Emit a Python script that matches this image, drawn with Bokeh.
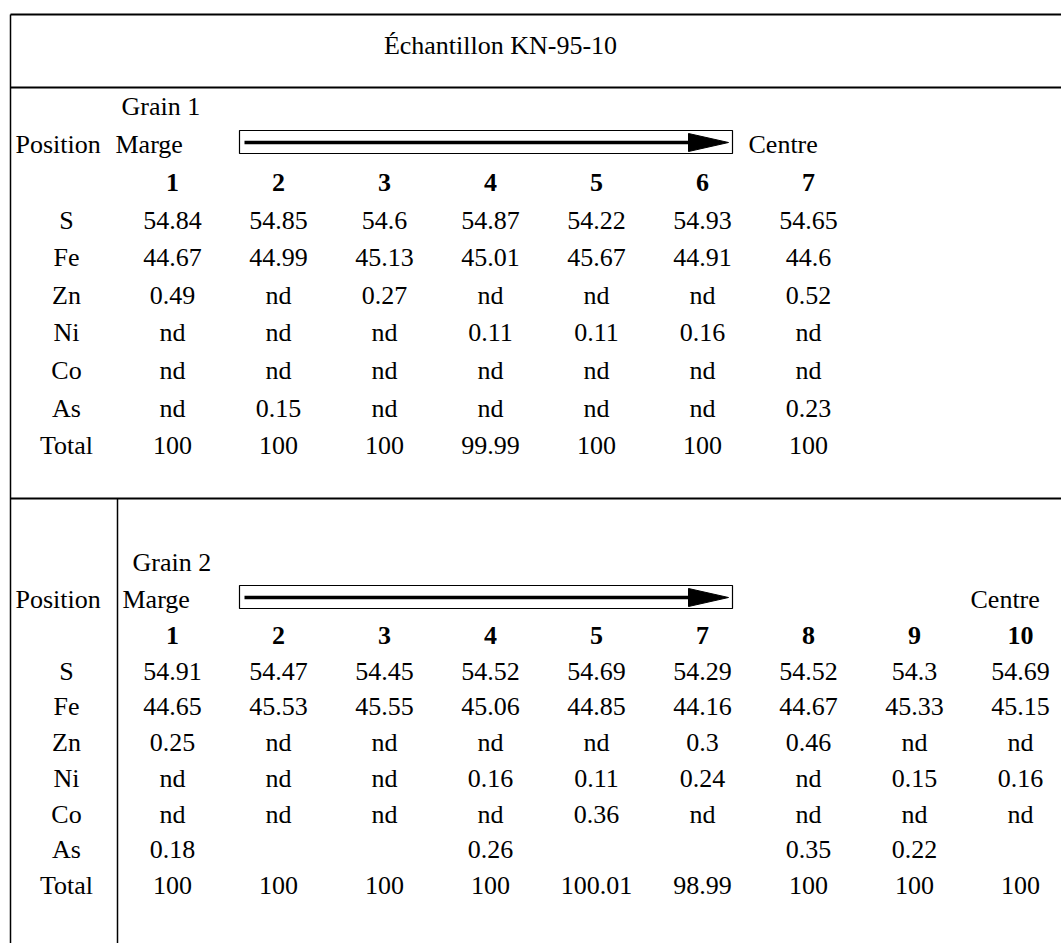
from bokeh.plotting import figure
from bokeh.models import Range1d
from bokeh.core.properties import value
from bokeh.embed import file_html
from bokeh.resources import INLINE

# ---------------- data ----------------
title_text = "Échantillon KN-95-10"
elements = ["S", "Fe", "Zn", "Ni", "Co", "As", "Total"]

g1_label = "Grain 1"
g1_positions = ["1", "2", "3", "4", "5", "6", "7"]
g1_S = ["54.84", "54.85", "54.6", "54.87", "54.22", "54.93", "54.65"]
g1_Fe = ["44.67", "44.99", "45.13", "45.01", "45.67", "44.91", "44.6"]
g1_Zn = ["0.49", "nd", "0.27", "nd", "nd", "nd", "0.52"]
g1_Ni = ["nd", "nd", "nd", "0.11", "0.11", "0.16", "nd"]
g1_Co = ["nd", "nd", "nd", "nd", "nd", "nd", "nd"]
g1_As = ["nd", "0.15", "nd", "nd", "nd", "nd", "0.23"]
g1_Total = ["100", "100", "100", "99.99", "100", "100", "100"]

g2_label = "Grain 2"
g2_positions = ["1", "2", "3", "4", "5", "7", "8", "9", "10"]
g2_S = ["54.91", "54.47", "54.45", "54.52", "54.69", "54.29", "54.52", "54.3", "54.69"]
g2_Fe = ["44.65", "45.53", "45.55", "45.06", "44.85", "44.16", "44.67", "45.33", "45.15"]
g2_Zn = ["0.25", "nd", "nd", "nd", "nd", "0.3", "0.46", "nd", "nd"]
g2_Ni = ["nd", "nd", "nd", "0.16", "0.11", "0.24", "nd", "0.15", "0.16"]
g2_Co = ["nd", "nd", "nd", "nd", "0.36", "nd", "nd", "nd", "nd"]
g2_As = ["0.18", "", "", "0.26", "", "", "0.35", "0.22", ""]
g2_Total = ["100", "100", "100", "100", "100.01", "98.99", "100", "100", "100"]

# ---------------- layout ----------------
FONT = value("Liberation Serif")
FS = "26px"
W, H = 1061, 943

p = figure(width=W, height=H, x_range=Range1d(0, W), y_range=Range1d(H, 0),
           output_backend="svg", toolbar_location=None, min_border=0)
p.xaxis.visible = False
p.yaxis.visible = False
p.grid.visible = False
p.outline_line_color = None
p.background_fill_color = "white"

LEFT = 10
COL0, DCOL = 172, 106.0
LABEL_X = 66


def txt(x, y, t, align="center", bold=False, size=FS):
    p.text(x=x, y=y, text=t, text_align=align, text_baseline="middle",
           text_font=FONT, text_font_size=size, text_color="black",
           text_font_style="bold" if bold else "normal")


# frame lines
TOP, LINE2, LINE3 = 14, 87, 498
p.segment(x0=[LEFT, LEFT, LEFT], y0=[TOP, LINE2, LINE3], x1=[W, W, W], y1=[TOP, LINE2, LINE3],
          line_color="black", line_width=2)
p.segment(x0=[LEFT], y0=[TOP], x1=[LEFT], y1=[H], line_color="black", line_width=1.5)
p.segment(x0=[117], y0=[LINE3], x1=[117], y1=[H], line_color="black", line_width=1.5)

txt([500], [45], [title_text])


def section(grain_label, positions, rows, y_grain, y_pos, y_num, d, grain_x, marge_x, centre_x):
    txt([grain_x], [y_grain], [grain_label], align="left")
    txt([15], [y_pos], ["Position"], align="left")
    txt([marge_x], [y_pos], ["Marge"], align="left")
    txt([centre_x], [y_pos], ["Centre"], align="left")
    # arrow box
    bx0, bx1 = 239, 732
    yc = y_pos - 2
    p.quad(left=[bx0], right=[bx1], top=[yc - 12], bottom=[yc + 11],
           fill_color=None, line_color="black", line_width=1.2)
    p.segment(x0=[bx0 + 5], y0=[yc], x1=[bx1 - 40], y1=[yc], line_color="black", line_width=3.5)
    p.patches(xs=[[bx1 - 44, bx1 - 4, bx1 - 44]], ys=[[yc - 9, yc, yc + 9]],
              fill_color="black", line_color="black")
    cols = [COL0 + DCOL * i for i in range(len(positions))]
    txt(cols, [y_num] * len(cols), positions, bold=True)
    for r, (name, vals) in enumerate(zip(elements, rows)):
        y = y_num + (r + 1) * d
        txt([LABEL_X], [y], [name])
        txt(cols, [y] * len(cols), vals)


section(g1_label, g1_positions, [g1_S, g1_Fe, g1_Zn, g1_Ni, g1_Co, g1_As, g1_Total],
        106, 144, 182, 37.6, 121, 115, 748)
section(g2_label, g2_positions, [g2_S, g2_Fe, g2_Zn, g2_Ni, g2_Co, g2_As, g2_Total],
        562, 599, 635, 35.7, 132, 122, 970)

open("out.html", "w").write(file_html(p, INLINE))
